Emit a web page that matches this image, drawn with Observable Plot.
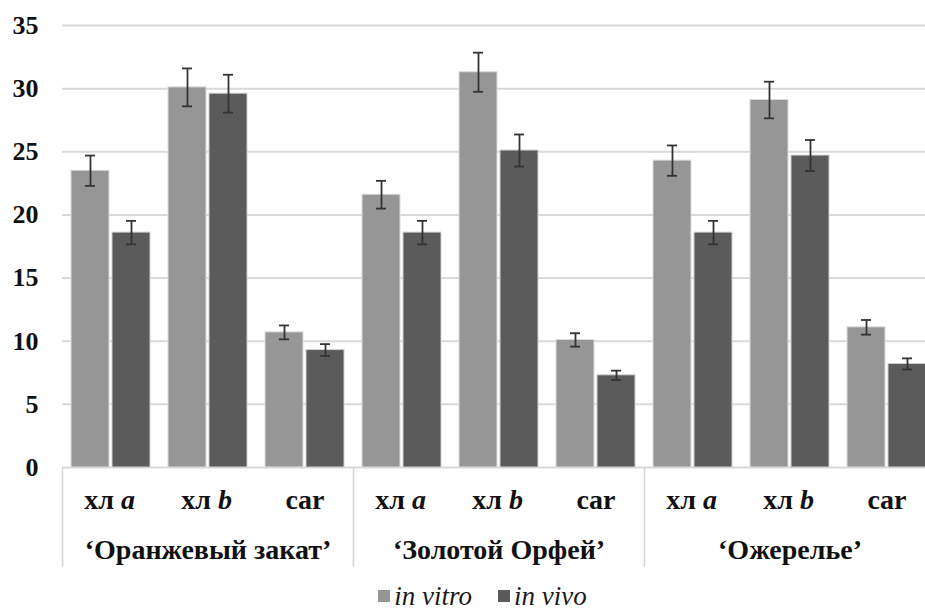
<!DOCTYPE html>
<html><head><meta charset="utf-8">
<script src="https://cdn.jsdelivr.net/npm/d3@7"></script>
<script src="https://cdn.jsdelivr.net/npm/@observablehq/plot@0.6"></script>
<style>
body{margin:0;background:#fff;}
#wrap{width:925px;height:612px;overflow:hidden;position:relative;background:#fff;}
#legend{position:absolute;top:580px;left:0;width:925px;height:32px;display:flex;justify-content:center;align-items:center;gap:26px;padding-left:40px;box-sizing:border-box;font-family:'Liberation Serif','Times New Roman',serif;font-style:italic;font-weight:normal;font-size:27px;color:#1a1a1a;}
#legend .item{display:flex;align-items:center;gap:4px;}
#legend .sw{width:12px;height:12px;display:inline-block;}
</style>
</head><body>
<div id="wrap"><div id="chart"></div><div id="legend"></div></div>
<script>
// ---- data ----
const cultivars = ["‘Оранжевый закат’", "‘Золотой Орфей’", "‘Ожерелье’"];
const pigmentPrefix = ["хл", "хл", "car"];
const pigmentItalic = ["a", "b", ""];
const conditions = ["in vitro", "in vivo"];
const vitro    = [23.5, 30.1, 10.7,  21.6, 31.3, 10.1,  24.3, 29.1, 11.1];
const vitroErr = [1.2,  1.5,  0.55,  1.1,  1.55, 0.53,  1.2,  1.45, 0.58];
const vivo     = [18.6, 29.6, 9.3,   18.6, 25.1, 7.3,   18.6, 24.7, 8.2];
const vivoErr  = [0.93, 1.5,  0.47,  0.93, 1.27, 0.37,  0.93, 1.23, 0.44];
const yTicks = [0, 5, 10, 15, 20, 25, 30, 35];
const colors = ["#969696", "#5b5b5b"];

// ---- table ----
const rows = [];
cultivars.forEach((c, ci) => pigmentPrefix.forEach((p, pi) => {
  const i = ci * 3 + pi;
  rows.push({key: ci + "-" + pi, cultivar: c, ci, pi, prefix: p, ital: pigmentItalic[pi],
    vitro: vitro[i], vitroErr: vitroErr[i], vivo: vivo[i], vivoErr: vivoErr[i]});
}));
const keys = rows.map(d => d.key);
const firsts = rows.filter(d => d.pi === 0);
const mids = rows.filter(d => d.pi === 1);
const withItal = rows.filter(d => d.ital !== "");
const noItal = rows.filter(d => d.ital === "");

const font = "'Liberation Serif', 'Times New Roman', serif";
const errStroke = "#333";
const ink = "#111";
const lab = {frameAnchor: "bottom", lineAnchor: "middle", fontSize: 28, fontWeight: "bold", fill: ink};

const chart = Plot.plot({
  width: 925, height: 580,
  marginLeft: 62, marginRight: 0, marginTop: 25, marginBottom: 113,
  x: {type: "band", domain: keys, range: [62, 935], padding: 0, axis: null},
  y: {domain: [0, 35], range: [467, 25], axis: null},
  style: {fontFamily: font, fontWeight: "bold", color: ink, background: "#fff"},
  marks: [
    Plot.ruleY(yTicks, {stroke: "#d9d9d9", strokeWidth: 2}),
    Plot.axisY(yTicks, {tickSize: 0, tickPadding: 24, fontSize: 26, fontWeight: "bold", fill: ink}),
    // group separators
    Plot.ruleX(firsts, {x: "key", dx: -48.5, y1: 0, y2: -7.9, stroke: "#d4d4d4", strokeWidth: 1.5}),
    // bars
    Plot.barY(rows, {x: "key", y: "vitro", fill: colors[0], insetLeft: 9, insetRight: 50, stroke: "#dcdcdc", strokeWidth: 1}),
    Plot.barY(rows, {x: "key", y: "vivo", fill: colors[1], insetLeft: 50, insetRight: 9, stroke: "#d0d0d0", strokeWidth: 1}),
    // error bars
    Plot.ruleX(rows, {x: "key", dx: -20.5, y1: d => d.vitro - d.vitroErr, y2: d => d.vitro + d.vitroErr, stroke: errStroke, strokeWidth: 1.8}),
    Plot.ruleX(rows, {x: "key", dx: 20.5, y1: d => d.vivo - d.vivoErr, y2: d => d.vivo + d.vivoErr, stroke: errStroke, strokeWidth: 1.8}),
    Plot.tickY(rows, {x: "key", y: d => d.vitro + d.vitroErr, insetLeft: 23, insetRight: 64, stroke: errStroke, strokeWidth: 1.8}),
    Plot.tickY(rows, {x: "key", y: d => d.vitro - d.vitroErr, insetLeft: 23, insetRight: 64, stroke: errStroke, strokeWidth: 1.8}),
    Plot.tickY(rows, {x: "key", y: d => d.vivo + d.vivoErr, insetLeft: 64, insetRight: 23, stroke: errStroke, strokeWidth: 1.8}),
    Plot.tickY(rows, {x: "key", y: d => d.vivo - d.vivoErr, insetLeft: 64, insetRight: 23, stroke: errStroke, strokeWidth: 1.8}),
    // pigment labels
    Plot.text(withItal, {...lab, x: "key", text: "prefix", dy: 33, dx: 3, textAnchor: "end"}),
    Plot.text(withItal, {...lab, x: "key", text: "ital", dy: 33, dx: 10, textAnchor: "start", fontStyle: "italic"}),
    Plot.text(noItal, {...lab, x: "key", text: "prefix", dy: 33}),
    // cultivar labels
    Plot.text(mids, {...lab, x: "key", text: "cultivar", dy: 83})
  ]
});
document.getElementById("chart").appendChild(chart);

const legend = d3.select("#legend");
conditions.forEach((c, i) => {
  const it = legend.append("div").attr("class", "item");
  it.append("span").attr("class", "sw").style("background", colors[i]);
  it.append("span").text(c);
});
</script>
</body></html>
